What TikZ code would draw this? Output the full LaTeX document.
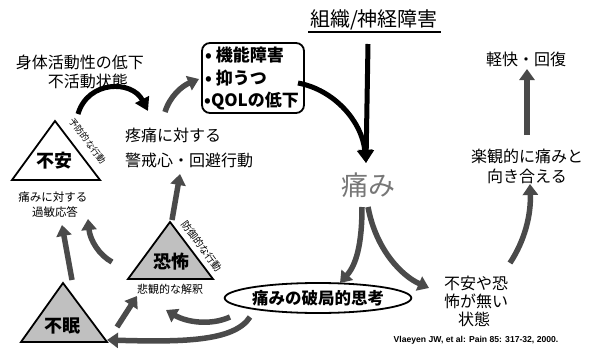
\documentclass[tikz,border=0pt]{standalone}
\usepackage{fontspec}
\setmainfont{Noto Sans CJK JP}
\newfontfamily\lat{Liberation Sans}
\usetikzlibrary{arrows.meta,shapes.geometric}
\definecolor{agray}{HTML}{4A4A4A}
\definecolor{tfill}{HTML}{C0C0C0}
\definecolor{paingray}{HTML}{777777}
\begin{document}
\begin{tikzpicture}[x=1pt,y=-1pt,
  garrow/.style={draw=agray, line width=5.5pt, -{Triangle[length=11pt,width=15pt]}},
  barrow/.style={draw=black, line width=5pt, -{Triangle[length=13pt,width=15pt]}},
  lbl/.style={inner sep=0pt, align=center, font=\fontsize{16}{19}\selectfont},
  small/.style={inner sep=0pt, align=center, font=\fontsize{11.5}{15}\selectfont},
  tri/.style={draw=black, line width=1.8pt, line join=miter},
  tritext/.style={inner sep=0pt, font=\fontsize{18}{20}\selectfont\bfseries},
  edgetext/.style={inner sep=0pt, font=\fontsize{9}{10}\selectfont}]
\useasboundingbox (0,0) rectangle (598,351);

% title
\node[inner sep=0pt, font=\fontsize{20}{22}\selectfont] (title) at (374,20) {組織/神経障害};
\draw[line width=1.2pt] (308,32) -- (441,32);

% pain
\node[inner sep=0pt, text=paingray, font=\fontsize{27}{30}\selectfont] (pain) at (368,185) {痛み};

% box
\node[draw, line width=1.8pt, rounded corners=8pt, minimum width=102pt, minimum height=70pt,
      inner sep=0pt] (box) at (253,78) {};
\node[inner sep=0pt, anchor=west, font=\fontsize{17}{20}\selectfont\bfseries] (b1) at (205,55) {• 機能障害};
\node[inner sep=0pt, anchor=west, font=\fontsize{17}{20}\selectfont\bfseries] (b2) at (205,78) {• 抑うつ};
\node[inner sep=0pt, anchor=west, font=\fontsize{17}{20}\selectfont\bfseries] (b3) at (204,101) {•QOLの低下};

% left texts
\node[lbl] (act1) at (80,62) {身体活動性の低下};
\node[lbl] (act2) at (88,81) {不活動状態};
\node[lbl, anchor=west] (vig1) at (125,135) {疼痛に対する};
\node[lbl, anchor=west] (vig2) at (125,160) {警戒心・回避行動};

% right texts
\node[lbl] (rec) at (526,59) {軽快・回復};
\node[lbl] (opt1) at (527,156) {楽観的に痛みと};
\node[lbl] (opt2) at (527,176) {向き合える};
\node[lbl] (nf1) at (476,283) {不安や恐};
\node[lbl] (nf2) at (476,301) {怖が無い};
\node[lbl] (nf3) at (474,319) {状態};

% ellipse
\node[draw, ellipse, line width=1.8pt, minimum width=166pt, minimum height=30pt, inner sep=0pt,
      font=\fontsize{16.5}{19}\selectfont\bfseries] (cat) at (318,298) {痛みの破局的思考};

% triangle anxiety
\coordinate (ta) at (55,121);
\coordinate (tl) at (12,180);
\coordinate (tr) at (100,180);
\draw[tri, fill=white] (ta) -- (tl) -- (tr) -- cycle;
\node[tritext] (anx) at (55,161) {不安};
\node[edgetext, rotate=-52.7] (anxl) at (87.5,141) {予防的な行動};
\node[small] (hyp1) at (53,197) {痛みに対する};
\node[small] (hyp2) at (55,212) {過敏応答};

% triangle fear
\coordinate (fa) at (170,222);
\coordinate (fl) at (128,279);
\coordinate (fr) at (213,279);
\draw[tri, fill=tfill] (fa) -- (fl) -- (fr) -- cycle;
\node[tritext] (fear) at (171,262) {恐怖};
\node[edgetext, font=\fontsize{10}{11}\selectfont, rotate=-53.5] (fearl) at (201.5,246) {防御的な行動};
\node[small, font=\fontsize{11}{14}\selectfont] (pess) at (170,289) {悲観的な解釈};

% triangle insomnia
\coordinate (ia) at (63,283);
\coordinate (il) at (21,342);
\coordinate (ir) at (107,342);
\draw[tri, fill=tfill] (ia) -- (il) -- (ir) -- cycle;
\node[tritext] (ins) at (63,326) {不眠};

% citation
\node[inner sep=0pt, font=\lat\bfseries\fontsize{8.6}{10}\selectfont] (cite) at (476,340) {Vlaeyen JW, et al: Pain 85: 317-32, 2000.};

% arrow coordinates
\coordinate (a1s) at (78,114);  \coordinate (a1e) at (148,111);
\coordinate (a2s) at (165,112); \coordinate (a2e) at (199,79);
\coordinate (a3s) at (368,44);  \coordinate (pin) at (366,163);
\coordinate (a4s) at (298,83);
\coordinate (a5s) at (362,207); \coordinate (a5e) at (340,283);
\coordinate (a6s) at (368,207); \coordinate (a6e) at (429,288);
\coordinate (a7s) at (510,263); \coordinate (a7e) at (530,184);
\coordinate (a8s) at (527,135); \coordinate (a8e) at (527,69);
\coordinate (a9s) at (172,220); \coordinate (a9e) at (180,174);
\coordinate (a10s) at (72,280); \coordinate (a10e) at (62,225);
\coordinate (a11s) at (112,262);\coordinate (a11e) at (88,219);
\coordinate (a12s) at (117,327);\coordinate (a12e) at (137,296);
\coordinate (a13s) at (230,317);\coordinate (a13e) at (166,310);
\coordinate (a14s) at (250,317);\coordinate (a14e) at (107,340);

% black arrows
\draw[barrow] (a1s) .. controls (88,80) and (132,80) .. (a1e);
\draw[barrow] (a3s) -- (pin);
\draw[barrow] (a4s) .. controls (335,90) and (362,122) .. (pin);

% gray arrows
\draw[garrow] (a2s) .. controls (170,96) and (182,86) .. (a2e);
\draw[garrow] (a5s) .. controls (362,245) and (356,265) .. (a5e);
\draw[garrow] (a6s) .. controls (376,250) and (402,276) .. (a6e);
\draw[garrow] (a7s) .. controls (525,240) and (531,215) .. (a7e);
\draw[garrow] (a8s) -- (a8e);
\draw[garrow] (a9s) -- (a9e);
\draw[garrow] (a10s) -- (a10e);
\draw[garrow] (a11s) .. controls (99,255) and (90,240) .. (a11e);
\draw[garrow] (a12s) -- (a12e);
\draw[garrow] (a13s) .. controls (210,326) and (186,322) .. (a13e);
\draw[garrow] (a14s) .. controls (234,342) and (180,342) .. (a14e);
\end{tikzpicture}
\end{document}
